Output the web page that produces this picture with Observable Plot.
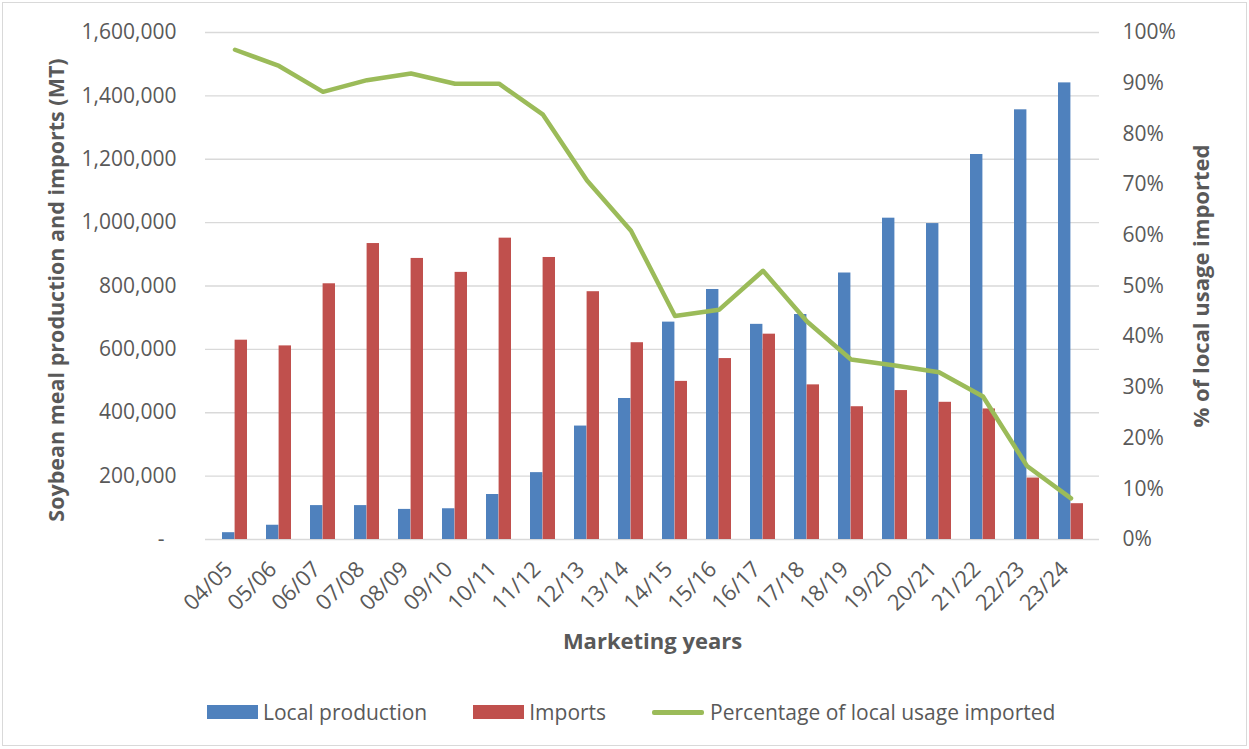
<!DOCTYPE html>
<html>
<head>
<meta charset="utf-8">
<script src="https://cdn.jsdelivr.net/npm/d3@7"></script>
<script src="https://cdn.jsdelivr.net/npm/@observablehq/plot@0.6"></script>
<style>
  html, body { margin: 0; padding: 0; background: #fff; }
  #chart { position: relative; width: 1249px; height: 749px; font-family: "Open Sans", sans-serif; color: #595959; }
  #frame { position: absolute; left: 2px; top: 2px; width: 1243px; height: 742px; border: 1px solid #d9d9d9; }
  #plot { position: absolute; left: 0; top: 0; }
  #legend { position: absolute; left: 207px; top: 698px; display: flex; align-items: center; font-size: 21px; color: #595959; }
  .item { display: flex; align-items: center; margin-right: 46px; }
  .swatch { width: 51px; height: 14px; margin-right: 5px; }
  .lineswatch { width: 52px; height: 5px; border-radius: 2px; margin-right: 6px; background: #9bbb59; }
</style>
</head>
<body>
<div id="chart">
  <div id="frame"></div>
  <div id="plot"></div>
  <div id="legend"></div>
</div>
<script>
// Marketing years (categories)
const years = ["04/05","05/06","06/07","07/08","08/09","09/10","10/11","11/12","12/13","13/14",
               "14/15","15/16","16/17","17/18","18/19","19/20","20/21","21/22","22/23","23/24"];
// Soybean meal local production (MT)
const localProduction = [21500, 45000, 107000, 107000, 95000, 97000, 142000, 211000, 358000, 445000,
                         686000, 789000, 679000, 710000, 841000, 1014000, 997000, 1215000, 1356000, 1441000];
// Soybean meal imports (MT)
const imports = [629000, 611000, 807000, 934000, 887000, 843000, 951000, 890000, 782000, 621000,
                 499000, 571000, 648000, 488000, 419000, 470000, 433000, 412000, 194000, 113000];
// Percentage of local usage imported (%)
const pctImported = [96.6, 93.4, 88.3, 90.6, 91.9, 89.9, 89.9, 83.8, 70.8, 60.9,
                     44.1, 45.3, 53.0, 43.0, 35.5, 34.3, 33.0, 28.2, 14.5, 8.1];

// Axis ticks
const mtTicks = [0, 200000, 400000, 600000, 800000, 1000000, 1200000, 1400000, 1600000];
const pctTicks = [0, 10, 20, 30, 40, 50, 60, 70, 80, 90, 100];

// Legend entries
const legendItems = [
  {label: "Local production", color: "#4f81bd", type: "bar"},
  {label: "Imports", color: "#c0504d", type: "bar"},
  {label: "Percentage of local usage imported", color: "#9bbb59", type: "line"}
];

const MT_MAX = 1600000;
const toMT = p => p / 100 * MT_MAX; // percentage axis shares the MT scale

const rows = years.map((y, i) => ({year: y, local: localProduction[i], imports: imports[i], pct: pctImported[i]}));

const fmt = d3.format(",");
const barW = 12.6;

const chart = Plot.plot({
  width: 1249,
  height: 680,
  marginLeft: 205,
  marginRight: 150,
  marginTop: 32,
  marginBottom: 141,
  style: {fontFamily: "Open Sans, sans-serif", color: "#595959", background: "transparent"},
  x: {type: "band", domain: years, paddingInner: 0.436, paddingOuter: 0.218, align: 0.5},
  y: {domain: [0, MT_MAX]},
  marks: [
    Plot.gridY(mtTicks, {stroke: "#d9d9d9", strokeOpacity: 1, strokeWidth: 1.3}),
    Plot.barY(rows, {x: "year", y: "local", fill: "#4f81bd", insetRight: barW}),
    Plot.barY(rows, {x: "year", y: "imports", fill: "#c0504d", insetLeft: barW}),
    Plot.line(rows, {x: "year", y: d => toMT(d.pct), stroke: "#9bbb59", strokeWidth: 4.5,
                     strokeLinejoin: "round", strokeLinecap: "round"}),
    Plot.axisY(mtTicks, {anchor: "left", tickSize: 0, tickPadding: 29, fontSize: 21, label: null,
                         tickFormat: d => d === 0 ? "-\u2007" : fmt(d)}),
    Plot.axisY(pctTicks.map(toMT), {anchor: "right", tickSize: 0, tickPadding: 23, fontSize: 21, label: null,
                         tickFormat: d => `${Math.round(d / MT_MAX * 100)}%`}),
    Plot.axisX({tickRotate: -45, tickSize: 0, tickPadding: 26, dx: -6, fontSize: 22, label: null}),
    Plot.text(["Soybean meal production and imports (MT)"], {frameAnchor: "left", dx: -148, dy: 4, rotate: -90,
                         textAnchor: "middle", fontSize: 21.5, fontWeight: "bold", fill: "#595959"}),
    Plot.text(["% of local usage imported"], {frameAnchor: "right", dx: 102, rotate: -90,
                         textAnchor: "middle", fontSize: 22, fontWeight: "bold", fill: "#595959"}),
    Plot.text(["Marketing years"], {frameAnchor: "bottom", dy: 109, fontSize: 22, fontWeight: "bold", fill: "#595959"})
  ]
});
document.getElementById("plot").appendChild(chart);

const legend = d3.select("#legend");
legendItems.forEach(it => {
  const el = legend.append("div").attr("class", "item");
  if (it.type === "bar") el.append("div").attr("class", "swatch").style("background", it.color);
  else el.append("div").attr("class", "lineswatch").style("background", it.color);
  el.append("span").text(it.label);
});
</script>
</body>
</html>
